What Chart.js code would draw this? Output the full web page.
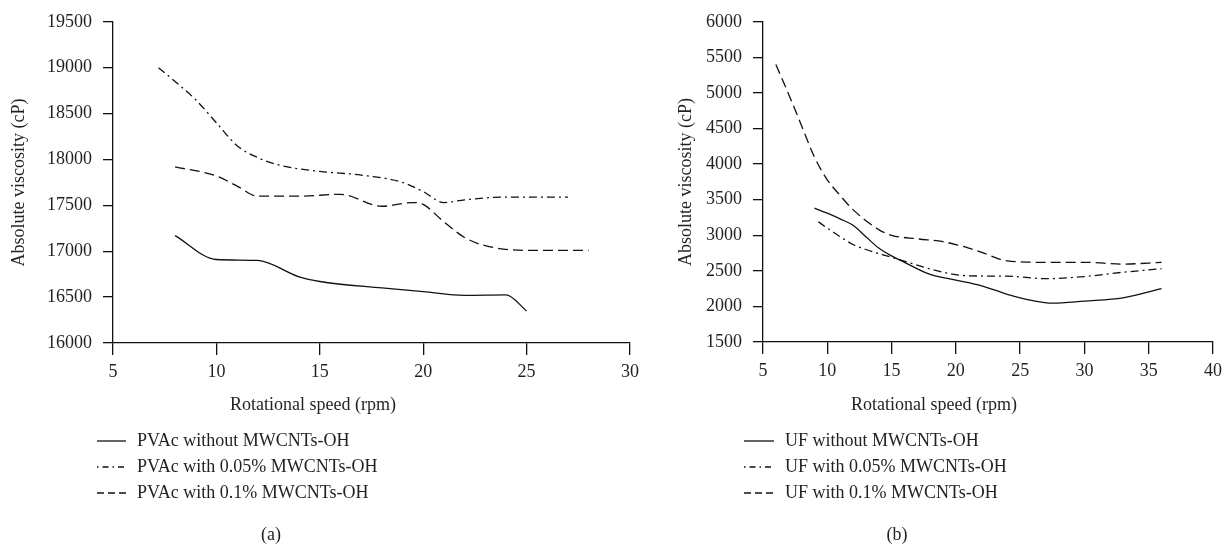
<!DOCTYPE html>
<html lang="en">
<head>
<meta charset="UTF-8" />
<title>Absolute viscosity vs rotational speed</title>
<script src="https://cdn.jsdelivr.net/npm/chart.js"></script>
<style>
  body { margin: 0; background: white; }
  #wrap { position: relative; width: 1230px; height: 548px; }
  #chartA { position: absolute; left: 0; top: 0; }
  #chartB { position: absolute; left: 645px; top: 0; }
</style>
</head>
<body>
<div id="wrap">
  <canvas id="chartA" width="645" height="548"></canvas>
  <canvas id="chartB" width="585" height="548"></canvas>
</div>

<script>
// (a) PVAc
const rpmA0 = [8, 10, 12, 14, 15, 18, 20, 22, 24, 25];
const pvacA0 = [17170, 16910, 16900, 16720, 16670, 16600, 16560, 16520, 16525, 16350];
const rpmA1 = [7.2, 8, 9, 10, 11, 12, 13, 15, 17, 19, 20, 21, 22, 24, 27];
const pvacA1 = [19000, 18850, 18650, 18400, 18150, 18020, 17940, 17870, 17830, 17750, 17650, 17530, 17560, 17590, 17590];
const rpmA2 = [8, 10, 11, 12, 14, 16, 18, 19.5, 20, 21, 22, 23, 25, 28];
const pvacA2 = [17920, 17820, 17710, 17600, 17600, 17620, 17490, 17530, 17510, 17320, 17150, 17060, 17010, 17010];

// (b) UF
const rpmB0 = [9, 10, 11, 12, 13, 14, 15, 16, 18, 20, 22, 24, 26, 27.5, 30, 33, 36];
const ufB0 = [3380, 3310, 3230, 3140, 2980, 2820, 2710, 2620, 2450, 2370, 2290, 2170, 2080, 2045, 2075, 2120, 2250];
const rpmB1 = [9.3, 10, 11, 12, 13, 15, 17, 19, 21, 24, 27, 30, 33, 36];
const ufB1 = [3190, 3100, 2980, 2870, 2800, 2690, 2580, 2480, 2430, 2425, 2390, 2420, 2480, 2530];
const rpmB2 = [6, 7, 8, 9, 10, 11, 12, 14, 15, 17, 19, 20, 21, 22, 24, 27, 30, 33, 36];
const ufB2 = [5400, 4980, 4540, 4100, 3780, 3560, 3360, 3080, 3000, 2950, 2910, 2870, 2820, 2760, 2640, 2620, 2620, 2595, 2620];

const labelsA = ['PVAc without MWCNTs-OH', 'PVAc with 0.05% MWCNTs-OH', 'PVAc with 0.1% MWCNTs-OH'];
const labelsB = ['UF without MWCNTs-OH', 'UF with 0.05% MWCNTs-OH', 'UF with 0.1% MWCNTs-OH'];

const ink = '#231f20';
const serif = '"Liberation Serif", "DejaVu Serif", serif';
Chart.defaults.color = ink;
Chart.defaults.font.family = serif;
Chart.defaults.font.size = 18;

const lineDashes = [[], [8, 4, 2, 4], [10, 5]];
const legendDashes = [[], [1.5, 4, 6, 4], [7, 4]];

function pts(xs, ys) {
  return xs.map((x, i) => ({ x: x, y: ys[i] }));
}

function makeSets(labels, series) {
  return series.map((s, i) => ({
    label: labels[i],
    data: s,
    borderColor: '#111',
    borderWidth: 1.3,
    borderDash: lineDashes[i],
    pointRadius: 0,
    fill: false,
    cubicInterpolationMode: 'monotone'
  }));
}

// draws x title, legend and caption under each panel
const extras = {
  id: 'extras',
  afterDraw(chart, args, o) {
    const ctx = chart.ctx;
    ctx.save();
    ctx.fillStyle = ink;
    ctx.font = '18px ' + serif;
    ctx.textBaseline = 'middle';
    ctx.textAlign = 'center';
    ctx.fillText(o.xTitle, o.xTitleX, o.xTitleY);
    ctx.fillText(o.caption, o.captionX, o.captionY);
    ctx.textAlign = 'left';
    chart.data.datasets.forEach((ds, i) => {
      const y = o.legendY + i * o.legendGap;
      ctx.beginPath();
      ctx.setLineDash(legendDashes[i]);
      ctx.strokeStyle = ds.borderColor;
      ctx.lineWidth = ds.borderWidth;
      ctx.moveTo(o.legendX1, y);
      ctx.lineTo(o.legendX2, y);
      ctx.stroke();
      ctx.fillText(ds.label, o.legendTextX, y);
    });
    ctx.restore();
  }
};

function makeChart(id, sets, xMax, yMin, yMax, yWidth, xHeight, pad, titlePad, ex) {
  return new Chart(document.getElementById(id), {
    type: 'line',
    data: { datasets: sets },
    options: {
      responsive: false,
      animation: false,
      layout: { padding: pad },
      plugins: { legend: { display: false }, tooltip: { enabled: false }, extras: ex },
      scales: {
        x: {
          type: 'linear',
          min: 5, max: xMax,
          ticks: { stepSize: 5, padding: 6, color: ink },
          grid: { drawOnChartArea: false, drawTicks: true, tickLength: 12, color: '#111', lineWidth: 1.3 },
          border: { display: true, color: '#111', width: 1.3 },
          afterFit: s => { s.height = xHeight; }
        },
        y: {
          min: yMin, max: yMax,
          ticks: { stepSize: 500, padding: 11, color: ink, callback: v => String(v) },
          grid: { drawOnChartArea: false, drawTicks: true, tickLength: 10, color: '#111', lineWidth: 1.3 },
          border: { display: true, color: '#111', width: 1.3 },
          title: { display: true, text: 'Absolute viscosity (cP)', color: ink, padding: { top: titlePad, bottom: 0 } },
          afterFit: s => { s.width = yWidth; }
        }
      }
    },
    plugins: [extras]
  });
}

makeChart('chartA',
  makeSets(labelsA, [pts(rpmA0, pvacA0), pts(rpmA1, pvacA1), pts(rpmA2, pvacA2)]),
  30, 16000, 19500, 113, 205, { top: 17, right: 14, left: 0, bottom: 0 }, 8,
  { xTitle: 'Rotational speed (rpm)', xTitleX: 313, xTitleY: 405,
    caption: '(a)', captionX: 271, captionY: 535,
    legendX1: 97, legendX2: 126, legendTextX: 137, legendY: 441, legendGap: 26 });

makeChart('chartB',
  makeSets(labelsB, [pts(rpmB0, ufB0), pts(rpmB1, ufB1), pts(rpmB2, ufB2)]),
  40, 1500, 6000, 118, 206, { top: 16, right: 17, left: 0, bottom: 0 }, 30,
  { xTitle: 'Rotational speed (rpm)', xTitleX: 289, xTitleY: 405,
    caption: '(b)', captionX: 252, captionY: 535,
    legendX1: 99, legendX2: 129, legendTextX: 140, legendY: 441, legendGap: 26 });
</script>
</body>
</html>
